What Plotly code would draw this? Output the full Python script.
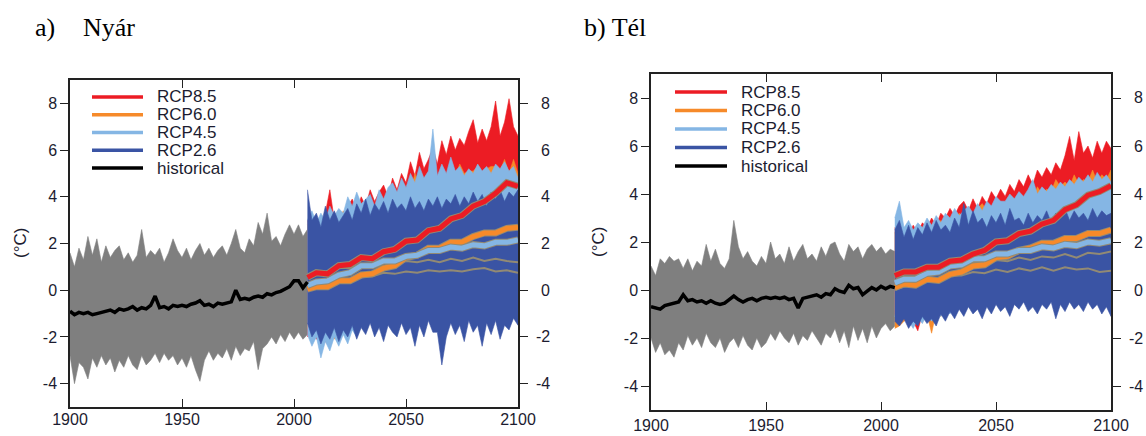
import plotly.graph_objects as go

# ---------------- data ----------------
hist_years = list(range(1900, 2007, 2))
proj_years = list(range(2006, 2101, 2))
mean_years = [2006] + list(range(2010, 2101, 5))

x_tick_vals = [1900, 1950, 2000, 2050, 2100]
x_tick_text = ["1900", "1950", "2000", "2050", "2100"]
y_tick_vals = [-4, -2, 0, 2, 4, 6, 8]
y_tick_text = ["-4", "-2", "0", "2", "4", "6", "8"]

series_names = ["RCP8.5", "RCP6.0", "RCP4.5", "RCP2.6", "historical"]
panel_titles = ["a)", "Nyár", "b) Tél"]
y_title = "(°C)"

# ---- panel a (Nyár) ----
hist_up_a = [1.6, 1.0, 1.8, 1.3, 2.3, 1.5, 2.2, 1.2, 1.9, 1.4, 1.7, 1.9, 1.3, 1.6, 1.2, 1.5, 2.6, 1.4,
             1.7, 1.5, 1.8, 1.2, 1.6, 2.2, 1.7, 1.4, 1.8, 1.3, 1.7, 2.0, 1.5, 1.8, 1.4, 1.7, 1.9, 1.5,
             2.0, 2.6, 1.8, 1.6, 2.2, 1.9, 2.9, 2.4, 3.3, 2.1, 2.3, 1.9, 2.4, 2.8, 2.4, 2.8, 2.3, 2.6]
hist_lo_a = [-2.8, -4.0, -3.1, -3.3, -3.8, -2.9, -3.3, -2.8, -3.2, -2.9, -3.5, -3.0, -3.3, -2.8, -3.2,
             -3.4, -2.8, -3.2, -3.0, -2.7, -3.1, -2.7, -3.0, -2.8, -3.2, -2.9, -3.3, -2.8, -3.4, -3.9,
             -3.0, -2.6, -3.0, -2.7, -2.9, -2.5, -3.0, -2.4, -2.8, -2.5, -2.6, -2.2, -3.4, -2.5, -2.3,
             -2.0, -2.3, -1.9, -2.2, -1.8, -2.1, -1.8, -2.1, -1.9]
hist_mean_a = [-0.9, -1.05, -0.95, -1.0, -0.95, -1.05, -1.0, -0.95, -0.9, -0.85, -0.95, -0.8, -0.85,
               -0.8, -0.7, -0.85, -0.75, -0.8, -0.65, -0.25, -0.75, -0.7, -0.8, -0.65, -0.7, -0.65,
               -0.7, -0.6, -0.55, -0.45, -0.65, -0.6, -0.7, -0.55, -0.6, -0.55, -0.5, 0.0, -0.4,
               -0.35, -0.4, -0.3, -0.25, -0.3, -0.15, -0.2, -0.1, -0.05, 0.05, 0.15, 0.4, 0.4, 0.1, 0.35]

rcp85_up_a = [3.0, 2.6, 3.1, 2.8, 3.3, 4.3, 3.0, 3.4, 3.2, 3.6, 3.9, 3.4, 4.0, 3.6, 4.3, 3.8, 4.2, 4.5,
              4.0, 4.8, 4.3, 5.0, 4.6, 5.5, 4.9, 5.9, 5.2, 5.6, 6.1, 5.4, 6.4, 5.8, 6.6, 6.0, 6.5, 6.2,
              6.8, 7.3, 6.3, 6.9, 6.4, 7.0, 8.1, 6.6, 7.2, 8.2, 7.0, 6.6]
rcp85_lo_a = [-2.0, -1.8, -2.1, -1.9, -2.2, -2.4, -1.7, -1.6, -1.8, -1.4, -1.5, -1.2, -1.4, -1.0, -1.1,
              -0.8, -1.0, -0.6, -0.7, -0.4, -0.5, -0.2, -0.1, 0.1, 0.0, 0.4, 0.3, 0.7, 0.6, 1.0, 0.9,
              1.3, 1.2, 1.6, 1.5, 1.9, 1.8, 2.2, 2.1, 2.5, 2.4, 2.8, 2.7, 3.0, 2.9, 3.2, 3.1, 3.4]
rcp60_up_a = [2.8, 2.5, 3.0, 2.7, 3.1, 2.9, 3.3, 3.0, 3.4, 3.2, 3.5, 3.3, 3.6, 3.4, 3.8, 3.5, 3.9, 3.7,
              4.0, 3.8, 4.2, 4.0, 4.4, 4.2, 5.0, 4.4, 4.7, 4.5, 4.9, 4.6, 5.0, 4.8, 5.2, 4.9, 5.4, 5.0,
              5.1, 5.1, 5.3, 5.0, 5.2, 5.3, 5.3, 5.1, 5.6, 5.0, 5.6, 5.0]
rcp60_lo_a = [-1.6, -1.9, -1.5, -1.8, -2.0, -1.7, -2.1, -1.5, -1.8, -1.3, -1.5, -1.1, -1.3, -0.9, -1.1,
              -0.8, -1.0, -0.6, -0.8, -0.5, -0.7, -0.3, -0.5, -0.2, -0.4, -0.1, -0.3, 0.1, -0.1, 0.2,
              0.0, 0.4, 0.2, 0.5, 0.3, 0.6, 0.4, 0.8, 0.6, 0.9, 0.7, 1.0, 0.8, 1.1, 0.9, 1.2, 1.0, 1.3]
rcp45_up_a = [3.0, 3.4, 2.9, 3.3, 3.0, 3.6, 3.2, 3.5, 3.3, 4.0, 3.6, 4.2, 3.7, 3.9, 4.1, 3.6, 4.3, 3.9,
              4.4, 4.6, 4.2, 4.8, 4.4, 5.0, 4.6, 5.3, 4.8, 5.1, 6.9, 4.9, 5.4, 5.0, 5.7, 5.1, 5.3, 4.9,
              5.2, 5.0, 5.4, 5.1, 5.3, 5.0, 5.4, 5.2, 5.5, 5.1, 5.3, 4.8]
rcp45_lo_a = [-1.9, -2.4, -2.0, -2.9, -2.2, -2.6, -2.0, -2.4, -1.9, -2.3, -1.7, -2.0, -1.5, -1.8, -1.3,
              -1.5, -1.2, -1.4, -1.0, -1.2, -0.9, -1.1, -0.8, -1.0, -0.7, -0.9, -0.6, -0.8, -0.5, -0.7,
              -0.4, -0.6, -0.3, -0.5, -0.3, -0.4, -0.2, -0.4, -0.1, -0.3, 0.0, -0.2, 0.1, -0.1, 0.2,
              0.0, 0.2, 0.1]
rcp26_up_a = [4.3, 3.0, 3.3, 2.7, 3.6, 3.0, 3.4, 2.9, 3.2, 3.5, 3.0, 3.7, 3.3, 3.9, 3.2, 3.7, 3.4, 3.8,
              3.3, 3.9, 3.5, 3.7, 3.4, 4.0, 3.5, 3.8, 3.4, 3.9, 3.6, 4.0, 3.5, 3.9, 3.7, 4.1, 3.6, 4.0,
              3.7, 4.2, 3.8, 4.1, 3.6, 4.2, 3.9, 4.3, 3.8, 4.2, 4.0, 4.3]
rcp26_lo_a = [-1.4, -2.0, -1.7, -2.3, -1.8, -2.1, -1.6, -2.2, -1.7, -2.0, -1.5, -2.1, -1.6, -1.9, -1.4,
              -2.0, -1.6, -2.2, -1.5, -1.8, -2.0, -1.4, -1.9, -1.6, -2.4, -1.5, -2.0, -1.3, -1.8, -1.8,
              -3.2, -2.0, -1.4, -1.9, -1.5, -2.2, -1.3, -1.8, -1.5, -2.4, -1.4, -1.9, -1.3, -2.1, -1.5,
              -1.7, -1.2, -1.5]
rcp85_mean_a = [0.55, 0.75, 0.7, 1.05, 1.1, 1.4, 1.35, 1.65, 1.75, 2.1, 2.15, 2.55, 2.65, 3.05, 3.2,
                3.6, 3.8, 4.15, 4.6, 4.45]
rcp60_mean_a = [0.05, 0.15, 0.15, 0.4, 0.4, 0.65, 0.7, 0.95, 1.05, 1.4, 1.5, 1.8, 1.8, 2.05, 2.05,
                2.3, 2.45, 2.45, 2.65, 2.7]
rcp45_mean_a = [0.2, 0.35, 0.4, 0.65, 0.75, 1.05, 1.05, 1.25, 1.25, 1.45, 1.5, 1.7, 1.7, 1.85, 1.8,
                1.95, 1.9, 2.05, 2.05, 2.15]
rcp26_mean_hi_a = [0.55, 0.65, 0.8, 0.95, 0.95, 1.1, 1.05, 1.2, 1.15, 1.25, 1.2, 1.3, 1.2, 1.35, 1.25,
                   1.4, 1.25, 1.35, 1.25, 1.2]
rcp26_mean_lo_a = [0.1, 0.2, 0.2, 0.35, 0.4, 0.55, 0.6, 0.75, 0.7, 0.8, 0.75, 0.85, 0.8, 0.85, 0.8,
                   0.9, 0.95, 0.8, 0.85, 0.75]

# ---- panel b (Tél) ----
hist_up_b = [1.0, 0.6, 1.3, 1.1, 1.4, 1.2, 1.3, 0.9, 1.3, 0.8, 1.2, 1.0, 1.9, 1.2, 1.7, 1.1, 0.9, 1.3,
             2.9, 1.8, 1.3, 1.6, 1.2, 1.0, 1.4, 1.1, 2.0, 1.3, 1.5, 1.1, 1.8, 1.2, 1.6, 1.9, 1.3, 1.5,
             1.2, 1.8, 1.4, 1.9, 2.0, 1.5, 1.2, 1.9, 1.6, 1.8, 1.3, 1.7, 1.9, 1.6, 1.8, 1.5, 1.7, 1.6]
hist_lo_b = [-2.0, -2.6, -2.2, -2.7, -2.5, -2.8, -2.2, -2.5, -1.9, -2.3, -2.0, -2.4, -1.8, -2.2, -2.4,
             -2.0, -2.6, -2.2, -2.0, -2.4, -1.9, -2.3, -2.5, -2.0, -2.4, -2.2, -1.8, -2.1, -1.7, -2.0,
             -2.2, -1.8, -2.3, -1.9, -2.1, -1.7, -2.0, -2.3, -1.8, -2.0, -1.6, -2.2, -1.7, -2.4, -1.5,
             -2.1, -1.6, -2.2, -1.5, -2.0, -1.6, -1.4, -1.7, -1.5]
hist_mean_b = [-0.7, -0.75, -0.8, -0.65, -0.6, -0.55, -0.5, -0.2, -0.45, -0.4, -0.5, -0.45, -0.55,
               -0.45, -0.55, -0.6, -0.55, -0.4, -0.25, -0.4, -0.5, -0.4, -0.35, -0.45, -0.35, -0.3,
               -0.35, -0.3, -0.35, -0.3, -0.4, -0.35, -0.75, -0.35, -0.3, -0.25, -0.2, -0.3, -0.15,
               -0.2, 0.05, -0.05, -0.1, 0.2, 0.05, 0.1, -0.2, -0.05, 0.1, 0.0, 0.15, 0.05, 0.15, 0.1]

rcp85_up_b = [2.6, 2.2, 2.5, 2.3, 2.7, 2.4, 2.8, 2.6, 3.0, 2.7, 3.2, 3.0, 3.4, 3.1, 3.5, 3.7, 3.3, 3.8,
              3.4, 3.9, 3.6, 4.1, 3.8, 4.2, 3.9, 4.4, 4.1, 4.6, 4.3, 4.8, 4.4, 5.0, 4.7, 5.1, 4.8, 5.3,
              5.0, 5.6, 6.4, 5.4, 6.6, 5.7, 6.0, 5.5, 6.2, 5.7, 6.2, 5.9]
rcp85_lo_b = [-1.0, -1.2, -0.9, -1.1, -1.3, -1.7, -1.0, -0.8, -1.0, -0.7, -0.8, -0.5, -0.6, -0.3, -0.4,
              -0.1, -0.2, 0.1, 0.0, 0.3, 0.2, 0.5, 0.4, 0.7, 0.6, 0.9, 0.8, 1.1, 1.0, 1.3, 1.2, 1.5,
              1.4, 1.7, 1.6, 1.9, 1.8, 2.1, 2.0, 2.3, 2.2, 2.5, 2.4, 2.6, 2.5, 2.7, 2.6, 2.8]
rcp60_up_b = [2.4, 2.0, 2.3, 2.1, 2.5, 2.2, 2.6, 2.4, 2.7, 2.5, 2.9, 2.7, 3.0, 2.8, 3.2, 3.0, 3.3, 3.1,
              3.4, 3.6, 3.3, 3.5, 3.3, 3.7, 3.5, 3.8, 3.6, 3.9, 3.7, 4.0, 3.8, 4.3, 4.0, 4.2, 4.1, 4.6,
              4.3, 4.5, 4.3, 4.8, 4.4, 4.6, 4.5, 5.0, 4.5, 4.8, 4.6, 5.0]
rcp60_lo_b = [-1.6, -1.5, -1.3, -1.2, -1.4, -1.1, -1.3, -1.0, -1.8, -0.9, -1.1, -0.7, -0.9, -0.5, -0.7,
              -0.4, -0.5, -0.2, -0.3, 0.0, -0.1, 0.2, 0.1, 0.4, 0.3, 0.6, 0.5, 0.8, 0.7, 1.0, 0.9, 1.1,
              1.0, 1.2, 1.1, 1.3, 1.2, 1.4, 1.3, 1.5, 1.4, 1.6, 1.5, 1.7, 1.6, 1.8, 1.7, 1.8]
rcp45_up_b = [3.0, 3.7, 2.6, 2.9, 2.5, 2.8, 2.6, 3.0, 2.7, 3.1, 2.8, 3.2, 3.0, 3.4, 3.1, 3.3, 3.5, 3.2,
              3.6, 3.3, 3.7, 3.5, 3.9, 3.7, 3.7, 4.0, 3.8, 4.1, 3.9, 4.2, 4.6, 4.0, 4.3, 4.1, 4.4, 4.2,
              4.5, 4.3, 4.6, 4.4, 4.7, 4.5, 4.8, 4.5, 4.9, 4.6, 4.8, 4.5]
rcp45_lo_b = [-1.1, -1.4, -1.0, -1.3, -1.6, -1.2, -1.4, -1.0, -1.3, -0.9, -1.1, -0.8, -1.0, -0.6, -0.8,
              -0.5, -0.7, -0.4, -0.6, -0.3, -0.5, -0.2, -0.4, -0.1, -0.3, 0.0, -0.2, 0.1, -0.1, 0.2,
              0.0, 0.3, 0.1, 0.4, 0.2, 0.5, 0.3, 0.6, 0.4, 0.7, 0.5, 0.8, 0.6, 0.9, 0.7, 1.0, 0.8, 1.1]
rcp26_up_b = [2.5, 2.9, 2.2, 2.7, 2.1, 2.6, 2.3, 2.8, 2.4, 2.9, 2.5, 2.7, 2.4, 3.0, 2.6, 3.6, 2.7, 3.3,
              2.8, 3.0, 2.6, 3.1, 2.8, 3.2, 2.7, 3.4, 2.9, 3.0, 2.7, 3.2, 2.8, 3.1, 2.9, 3.3, 2.8, 3.2,
              3.0, 3.4, 2.9, 3.3, 3.0, 3.2, 2.9, 3.4, 3.0, 3.3, 3.1, 3.2]
rcp26_lo_b = [-1.3, -1.5, -1.2, -1.6, -1.3, -1.5, -1.1, -1.4, -1.2, -1.5, -1.0, -1.3, -0.9, -1.2, -0.8,
              -1.1, -0.7, -1.0, -0.8, -1.2, -0.7, -1.0, -0.6, -0.9, -0.7, -1.1, -0.6, -0.8, -0.5, -0.9,
              -0.7, -1.0, -0.6, -0.8, -0.5, -1.2, -0.6, -0.9, -0.5, -0.8, -0.6, -0.9, -0.5, -0.8, -0.6,
              -1.0, -0.7, -1.1]
rcp85_mean_b = [0.6, 0.75, 0.75, 0.95, 0.95, 1.2, 1.25, 1.5, 1.65, 2.0, 2.05, 2.35, 2.45, 2.75, 2.9,
                3.35, 3.55, 3.95, 4.1, 4.35]
rcp60_mean_b = [0.1, 0.25, 0.2, 0.45, 0.4, 0.65, 0.75, 1.0, 1.05, 1.35, 1.4, 1.65, 1.75, 1.95, 1.95,
                2.15, 2.15, 2.35, 2.35, 2.5]
rcp45_mean_b = [0.3, 0.45, 0.45, 0.7, 0.75, 1.0, 1.05, 1.3, 1.3, 1.5, 1.5, 1.65, 1.65, 1.8, 1.75,
                1.9, 1.85, 2.0, 1.95, 2.05]
rcp26_mean_hi_b = [0.55, 0.65, 0.65, 0.85, 0.85, 1.0, 0.95, 1.15, 1.1, 1.25, 1.2, 1.35, 1.25, 1.4,
                   1.35, 1.5, 1.35, 1.55, 1.5, 1.6]
rcp26_mean_lo_b = [0.0, 0.15, 0.2, 0.4, 0.4, 0.6, 0.6, 0.75, 0.7, 0.85, 0.75, 0.9, 0.8, 0.95, 0.8,
                   0.95, 0.85, 0.9, 0.75, 0.8]

# ---------------- styling ----------------
W, H = 1146, 436
COLORS = {"RCP8.5": "#ec1c24", "RCP6.0": "#f68a2a", "RCP4.5": "#85b6e4",
          "RCP2.6": "#3a54a4", "historical": "#000000"}
HIST_FILL = "#7f7f7f"
EDGE = "#928a74"
TXT = "#1c1c30"
SANS = "Liberation Sans, Arial, sans-serif"
SERIF = "Liberation Serif, Times New Roman, serif"


def px(x):
    return x / W


def py(y):
    return 1 - y / H


def band(xs, lo, hi, color, xa, ya):
    return go.Scatter(x=xs + xs[::-1], y=hi + lo[::-1], mode="lines", fill="toself",
                      fillcolor=color, line=dict(color=color, width=0.6),
                      xaxis=xa, yaxis=ya, hoverinfo="skip", showlegend=False)


def line(xs, ys, color, width, xa, ya):
    return go.Scatter(x=xs, y=ys, mode="lines", line=dict(color=color, width=width),
                      xaxis=xa, yaxis=ya, hoverinfo="skip", showlegend=False)


panels = [
    dict(xa="x", ya="y",
         hist=(hist_lo_a, hist_up_a, hist_mean_a),
         env={"RCP8.5": (rcp85_lo_a, rcp85_up_a), "RCP6.0": (rcp60_lo_a, rcp60_up_a),
              "RCP4.5": (rcp45_lo_a, rcp45_up_a), "RCP2.6": (rcp26_lo_a, rcp26_up_a)},
         means={"RCP6.0": rcp60_mean_a, "RCP4.5": rcp45_mean_a, "RCP8.5": rcp85_mean_a},
         m26=(rcp26_mean_lo_a, rcp26_mean_hi_a)),
    dict(xa="x2", ya="y2",
         hist=(hist_lo_b, hist_up_b, hist_mean_b),
         env={"RCP8.5": (rcp85_lo_b, rcp85_up_b), "RCP6.0": (rcp60_lo_b, rcp60_up_b),
              "RCP4.5": (rcp45_lo_b, rcp45_up_b), "RCP2.6": (rcp26_lo_b, rcp26_up_b)},
         means={"RCP6.0": rcp60_mean_b, "RCP4.5": rcp45_mean_b, "RCP8.5": rcp85_mean_b},
         m26=(rcp26_mean_lo_b, rcp26_mean_hi_b)),
]

fig = go.Figure()
for p in panels:
    xa, ya = p["xa"], p["ya"]
    lo, hi, mn = p["hist"]
    fig.add_trace(band(hist_years, lo, hi, HIST_FILL, xa, ya))
    for name in ["RCP8.5", "RCP6.0", "RCP4.5", "RCP2.6"]:
        elo, ehi = p["env"][name]
        fig.add_trace(band(proj_years, elo, ehi, COLORS[name], xa, ya))
    mlo, mhi = p["m26"]
    fig.add_trace(line(mean_years, mhi, EDGE, 2.0, xa, ya))
    fig.add_trace(line(mean_years, mlo, EDGE, 2.0, xa, ya))
    for name, vals in p["means"].items():
        fig.add_trace(line(mean_years, vals, EDGE, 7, xa, ya))
        fig.add_trace(line(mean_years, vals, COLORS[name], 5, xa, ya))
    fig.add_trace(line(hist_years, mn, COLORS["historical"], 3.5, xa, ya))

axis_common = dict(showgrid=False, zeroline=False, showline=True, linecolor="#222222",
                   linewidth=1.5, tickcolor="#222222", tickwidth=1.4, automargin=False,
                   tickfont=dict(family=SANS, size=16, color=TXT))
xcommon = dict(axis_common, range=[1900, 2100], tickmode="array", tickvals=x_tick_vals,
               ticktext=x_tick_text, ticks="inside", ticklen=8, mirror="ticks")
ycommon = dict(axis_common, range=[-5, 9], tickmode="array", tickvals=y_tick_vals,
               ticktext=y_tick_text, ticks="outside", ticklen=8, mirror="ticks")

boxes = [(70, 518, 80, 407), (651, 1111, 74, 410)]
fig.update_layout(
    width=W, height=H, autosize=False,
    margin=dict(l=0, r=0, t=0, b=0, pad=0, autoexpand=False),
    paper_bgcolor="white", plot_bgcolor="white", showlegend=False,
    xaxis=dict(xcommon, domain=[px(boxes[0][0]), px(boxes[0][1])], anchor="y",
               ticklabelstandoff=-3),
    yaxis=dict(ycommon, domain=[py(boxes[0][3]), py(boxes[0][2])], anchor="x"),
    xaxis2=dict(xcommon, domain=[px(boxes[1][0]), px(boxes[1][1])], anchor="y2"),
    yaxis2=dict(ycommon, domain=[py(boxes[1][3]), py(boxes[1][2])], anchor="x2"),
)

annotations = []
shapes = []
# right-hand tick labels (right aligned)
for yref, xr in [("y", 552), ("y2", 1145)]:
    for v, t in zip(y_tick_vals, y_tick_text):
        annotations.append(dict(x=px(xr), y=v, xref="paper", yref=yref, text=t,
                                showarrow=False, xanchor="right", yanchor="middle",
                                font=dict(family=SANS, size=16, color=TXT)))
# y titles
for xt, yt in [(20, 243), (598, 242)]:
    annotations.append(dict(x=px(xt), y=py(yt), xref="paper", yref="paper", text=y_title,
                            textangle=-90, showarrow=False, xanchor="center", yanchor="middle",
                            font=dict(family=SANS, size=17, color=TXT)))
# panel titles
for t, xt in zip(panel_titles, [33, 81, 582]):
    annotations.append(dict(x=px(xt), y=py(27), xref="paper", yref="paper", text=t,
                            showarrow=False, xanchor="left", yanchor="middle",
                            font=dict(family=SERIF, size=26, color="#000000")))
# legends
for (x0, x1, xt, y0, dy) in [(92, 143, 155, 97, 17.75), (675, 727, 739, 92, 18.5)]:
    for i, name in enumerate(series_names):
        yy = y0 + i * dy
        shapes.append(dict(type="line", xref="paper", yref="paper", x0=px(x0), x1=px(x1),
                           y0=py(yy), y1=py(yy), line=dict(color=COLORS[name], width=3.5)))
        annotations.append(dict(x=px(xt), y=py(yy), xref="paper", yref="paper", text=name,
                                showarrow=False, xanchor="left", yanchor="middle",
                                font=dict(family=SANS, size=17, color=TXT)))

fig.update_layout(annotations=annotations, shapes=shapes)
fig.write_html("out.html")
